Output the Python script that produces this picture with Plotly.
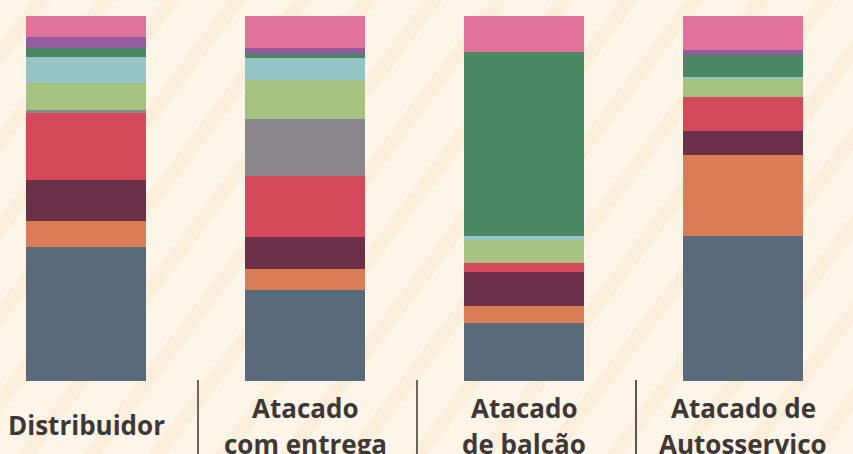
import plotly.graph_objects as go

# ---- data (percent shares) ----
categories = ["Distribuidor", "Atacado<br>com entrega", "Atacado<br>de balcão", "Atacado de<br>Autosserviço"]
series_names = ["Série 1", "Série 2", "Série 3", "Série 4", "Série 5",
                "Série 6", "Série 7", "Série 8", "Série 9", "Série 10"]
s1 = [36.7, 24.9, 16.0, 39.6]   # slate
s2 = [7.1, 5.8, 4.6, 22.4]      # orange
s3 = [11.2, 8.8, 9.3, 6.6]      # maroon
s4 = [18.6, 16.8, 2.5, 9.3]     # red
s5 = [0.5, 15.5, 0.0, 0.0]      # gray
s6 = [7.4, 10.7, 6.3, 4.9]      # light green
s7 = [7.1, 6.0, 1.1, 0.5]       # light blue
s8 = [2.5, 1.3, 50.4, 6.0]      # green
s9 = [3.0, 1.5, 0.0, 1.4]       # purple
s10 = [5.8, 8.8, 9.8, 9.3]      # pink
series_values = [s1, s2, s3, s4, s5, s6, s7, s8, s9, s10]

colors = ["#596b7b", "#d87d55", "#6c2f49", "#d44a5a", "#8a878c",
          "#a6c280", "#94c4c6", "#4a8763", "#935c9c", "#e0729c"]

W, H = 853, 454
TOP, BOTTOM = 16, 381  # plot area in pixels
PH = BOTTOM - TOP


def py(p):  # pixel y -> paper y
    return (BOTTOM - p) / PH


def px(p):  # pixel x -> paper x
    return p / W


fig = go.Figure()
for name, vals, col in zip(series_names, series_values, colors):
    fig.add_trace(go.Bar(
        x=categories, y=vals, name=name,
        marker=dict(color=col, line=dict(width=0)),
        width=0.548, hoverinfo="skip",
    ))

shapes = []
# diagonal background stripes
slope = 1.33
period, thick = 87, 23
for k in range(-6, 16):
    c1 = 304 + period * k
    c2 = c1 + thick
    x0, x1 = -100, W + 100
    pts = [(x0, c1 - slope * x0), (x1, c1 - slope * x1),
           (x1, c2 - slope * x1), (x0, c2 - slope * x0)]
    path = "M " + " L ".join(f"{px(a):.5f},{py(b):.5f}" for a, b in pts) + " Z"
    shapes.append(dict(type="path", xref="paper", yref="paper", path=path,
                       fillcolor="#fbeedb", line=dict(width=0), layer="below"))

# separators between labels
for xpix, col, w in [(198, "#6e6459", 2), (417, "#6e6459", 2), (636, "#222222", 1.5)]:
    shapes.append(dict(type="line", xref="paper", yref="paper",
                       x0=px(xpix), x1=px(xpix), y0=py(380), y1=py(460),
                       line=dict(color=col, width=w), layer="above"))

annotations = []
for cat in categories:
    lines = cat.split("<br>")
    if len(lines) == 1:
        centers = [425.4]
    else:
        centers = [407.5, 444.0]
    for ln, cy in zip(lines, centers):
        annotations.append(dict(
            x=cat, xref="x", y=py(cy), yref="paper",
            text=ln, showarrow=False, xanchor="center", yanchor="middle",
            font=dict(family="Open Sans", size=26, color="#3d3838", weight="bold"),
        ))

fig.update_layout(
    width=W, height=H,
    margin=dict(l=0, r=0, t=TOP, b=H - BOTTOM, pad=0),
    barmode="stack", barnorm="percent",
    paper_bgcolor="#fdf5e7", plot_bgcolor="rgba(0,0,0,0)",
    showlegend=False,
    xaxis=dict(range=[-86 / 219, (W - 86) / 219], showticklabels=False,
               showgrid=False, zeroline=False, showline=False, ticks=""),
    yaxis=dict(range=[0, 100], showticklabels=False, showgrid=False,
               zeroline=False, showline=False, ticks=""),
    shapes=shapes, annotations=annotations,
)

fig.write_html("out.html")
